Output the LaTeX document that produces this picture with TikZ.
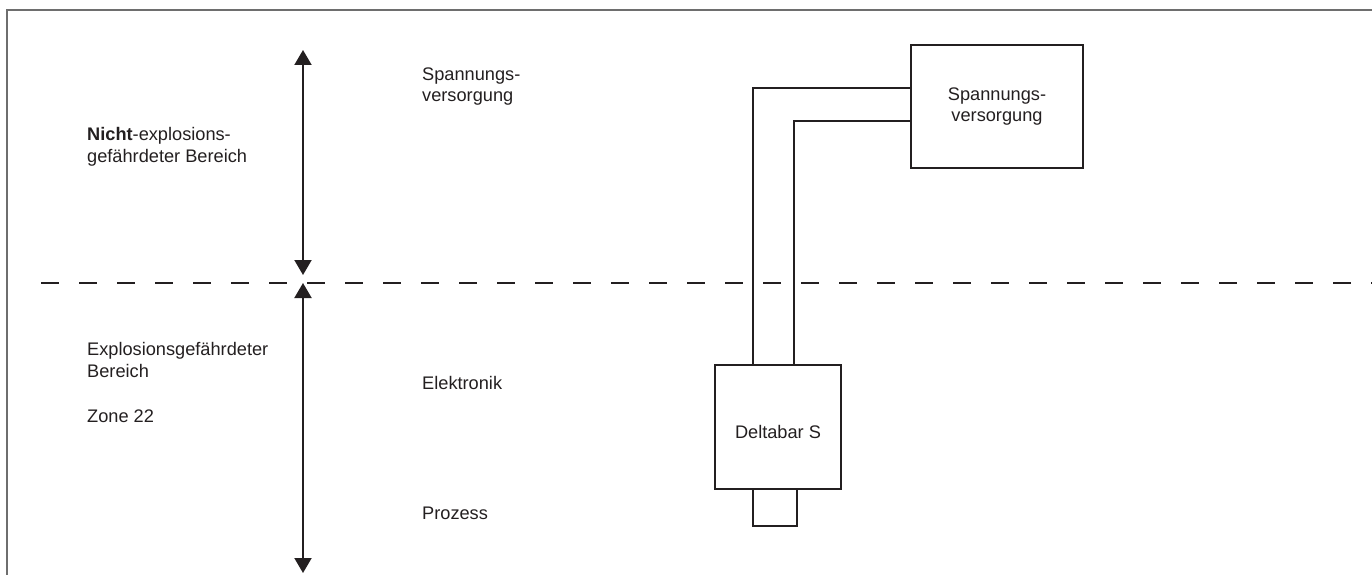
\documentclass[tikz,border=0pt]{standalone}
\usepackage{fontspec}
\setmainfont{Liberation Sans}
\usetikzlibrary{arrows.meta}
\definecolor{ink}{RGB}{35,31,32}
\definecolor{framegray}{RGB}{110,110,110}
\begin{document}
\begin{tikzpicture}[x=1pt,y=-1pt,
  every node/.style={text=ink,font=\fontsize{18.2}{21.5}\selectfont},
  txt/.style={anchor=base west,align=left,inner sep=0pt},
  box/.style={draw=ink,line width=1.6pt,inner sep=0pt},
  wire/.style={draw=ink,line width=1.6pt},
  dim/.style={draw=ink,line width=2pt,{Triangle[width=17pt,length=15pt]}-{Triangle[width=17pt,length=15pt]}},
  border/.style={draw=framegray,line width=2pt},
  zone/.style={draw=ink,line width=1.6pt,dash pattern=on 18pt off 20pt}]
\useasboundingbox (0,0) rectangle (1372,575);
% frame
\coordinate (fbl) at (7,576);
\coordinate (ftl) at (7,10);
\coordinate (ftr) at (1373,10);
\draw[border] (fbl) -- (ftl) -- (ftr);
% zone boundary
\coordinate (zl) at (41,283);
\coordinate (zr) at (1372,283);
\draw[zone] (zl) -- (zr);
% dimension arrows
\coordinate (a1t) at (303,50);
\coordinate (a1b) at (303,275);
\coordinate (a2t) at (303,283);
\coordinate (a2b) at (303,573);
\draw[dim] (a1t) -- (a1b);
\draw[dim] (a2t) -- (a2b);
% texts left (anchor = baseline of last line)
\node[txt] (nicht) at (87,162) {\textbf{Nicht}-explosions-\\gefährdeter Bereich};
\node[txt] (ex) at (87,377) {Explosionsgefährdeter\\Bereich};
\node[txt] (zone22) at (87,422) {Zone 22};
% texts middle
\node[txt] (sv) at (422,102) {Spannungs-\\versorgung};
\node[txt] (elek) at (422,389) {Elektronik};
\node[txt] (proz) at (422,519) {Prozess};
% boxes
\node[box,minimum width=172pt,minimum height=123pt,align=center] (psu) at (997,106.5) {Spannungs-\\versorgung};
\node[box,minimum width=126pt,minimum height=124pt] (dbox) at (778,427) {};
\node[anchor=base,inner sep=0pt] (dtext) at (778,438) {Deltabar S};
\node[box,minimum width=44pt,minimum height=37pt] (proc) at (775,507.5) {};
% wires
\draw[wire] ([xshift=39pt]dbox.north west) |- ([yshift=-44pt]psu.north west);
\draw[wire] ([xshift=80pt]dbox.north west) |- ([yshift=-77pt]psu.north west);
\end{tikzpicture}
\end{document}
